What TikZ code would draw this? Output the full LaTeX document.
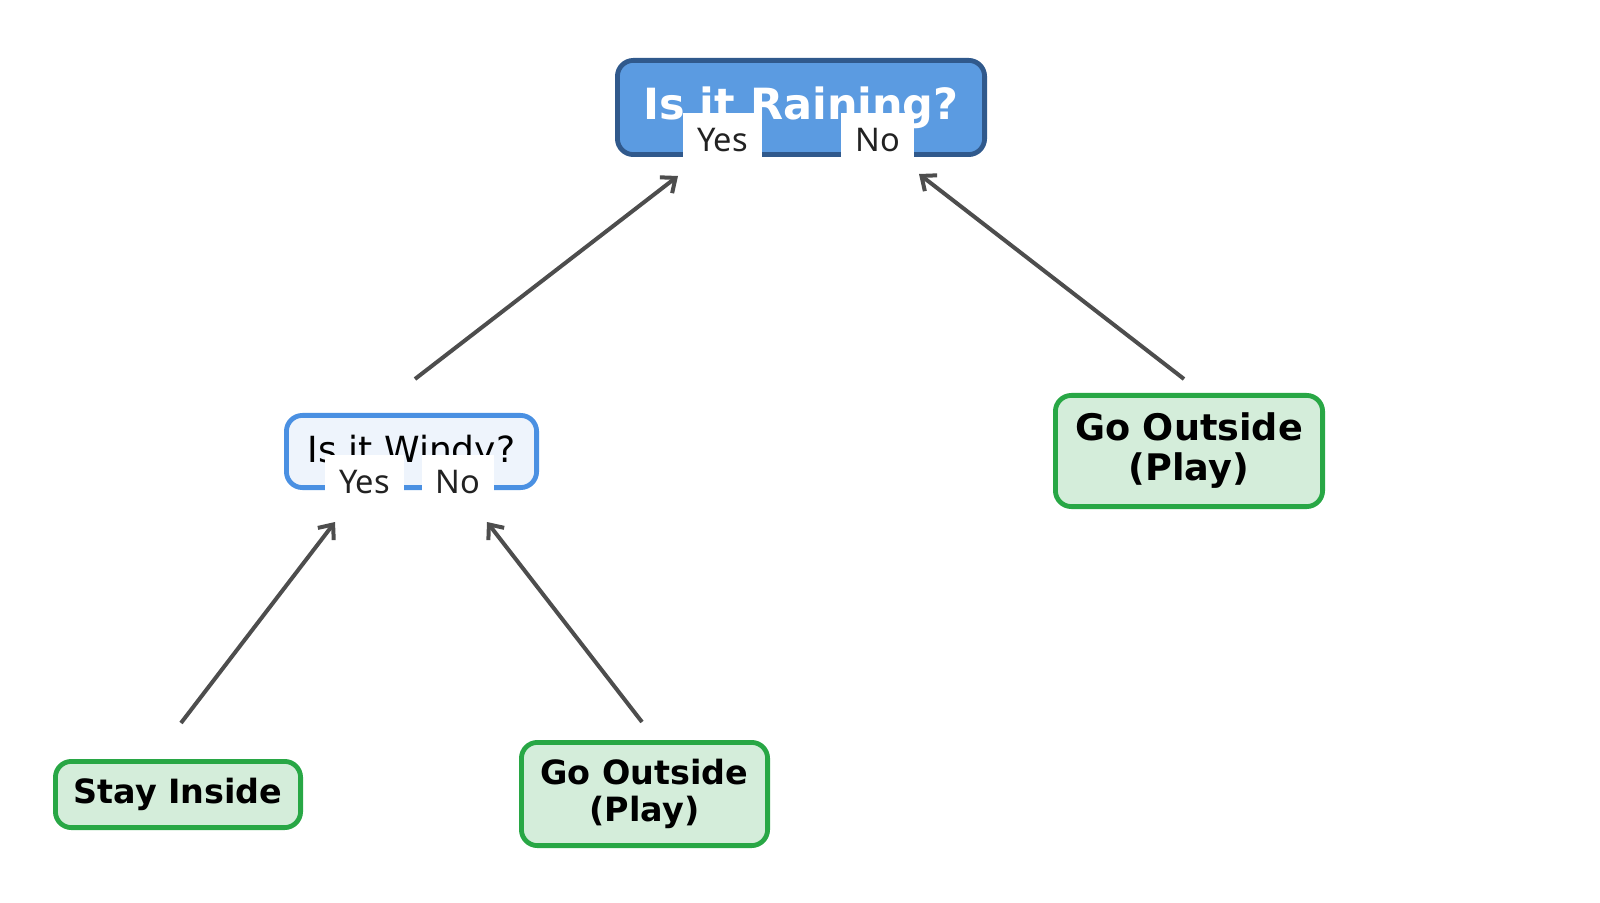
\documentclass[tikz,border=0pt]{standalone}
\usepackage{fontspec}
\setmainfont{DejaVu Sans}
\newfontfamily\lblfont{Noto Sans}
\usetikzlibrary{arrows.meta}
\definecolor{rainfill}{HTML}{5B9BE1}
\definecolor{raindraw}{HTML}{30598C}
\definecolor{windfill}{HTML}{EEF4FC}
\definecolor{winddraw}{HTML}{4A90E2}
\definecolor{leaffill}{HTML}{D4EDDA}
\definecolor{leafdraw}{HTML}{28A745}
\definecolor{arrowcol}{HTML}{4D4D4D}
\definecolor{txtdark}{HTML}{222222}
\tikzset{
  basebox/.style={rounded corners=8pt, line width=2.4pt, inner sep=0pt, outer sep=0pt, align=center},
  rainbox/.style={basebox, fill=rainfill, draw=raindraw, text=white,
    font=\fontsize{21.5pt}{25pt}\selectfont\bfseries},
  windbox/.style={basebox, fill=windfill, draw=winddraw, text=black,
    font=\fontsize{18pt}{21pt}\selectfont},
  leafbox/.style={basebox, fill=leaffill, draw=leafdraw, text=black},
  edgelabel/.style={fill=white, inner xsep=7pt, inner ysep=0pt, text height=19.5pt, text depth=2.5pt,
    text=txtdark, font=\lblfont\fontsize{16.3pt}{19pt}\selectfont},
  conn/.style={draw=arrowcol, line width=2pt, -{Straight Barb[length=6pt,width=10pt,line width=2pt]}},
}
\begin{document}
\begin{tikzpicture}[x=0.5pt,y=-0.5pt]
\useasboundingbox (0,0) rectangle (1600,903);
% nodes
\node[rainbox, minimum width=183.6pt, minimum height=47.1pt, text height=15.5pt, text depth=3pt] (rain) at (801,107.5) {Is it Raining?};
\node[windbox, minimum width=125.1pt, minimum height=36.1pt, text height=13pt, text depth=2.5pt] (windy) at (411.5,451.5) {Is it Windy?};
\node[leafbox, minimum width=133.6pt, minimum height=55.6pt, font=\fontsize{18.3pt}{20pt}\selectfont\bfseries] (goright) at (1189,451) {Go Outside\\(Play)};
\node[leafbox, minimum width=122.6pt, minimum height=33.1pt, text height=12pt, text depth=3.5pt, font=\fontsize{16.7pt}{18.5pt}\selectfont\bfseries] (stay) at (178,794.5) {Stay Inside};
\node[leafbox, minimum width=123.1pt, minimum height=51.6pt, font=\fontsize{16.7pt}{18.5pt}\selectfont\bfseries] (gobottom) at (644.5,794) {Go Outside\\(Play)};
% connector ends
\coordinate (s1) at ([shift={(3.5,-72.5)}]windy.center);
\coordinate (e1) at ([shift={(-123,68.5)}]rain.center);
\coordinate (s2) at ([shift={(-5,-72)}]goright.center);
\coordinate (e2) at ([shift={(118,66.5)}]rain.center);
\coordinate (s3) at ([shift={(3,-71.5)}]stay.center);
\coordinate (e3) at ([shift={(-76.5,70.5)}]windy.center);
\coordinate (s4) at ([shift={(-2.5,-72)}]gobottom.center);
\coordinate (e4) at ([shift={(75.5,70.5)}]windy.center);
% connectors
\draw[conn] (s1) -- (e1);
\draw[conn] (s2) -- (e2);
\draw[conn] (s3) -- (e3);
\draw[conn] (s4) -- (e4);
% labels
\node[edgelabel] (lyes1) at (722.5,135) {Yes};
\node[edgelabel] (lno1) at (877.5,135) {No};
\node[edgelabel] (lyes2) at (364.5,476.5) {Yes};
\node[edgelabel] (lno2) at (458,476.5) {No};
\end{tikzpicture}
\end{document}
